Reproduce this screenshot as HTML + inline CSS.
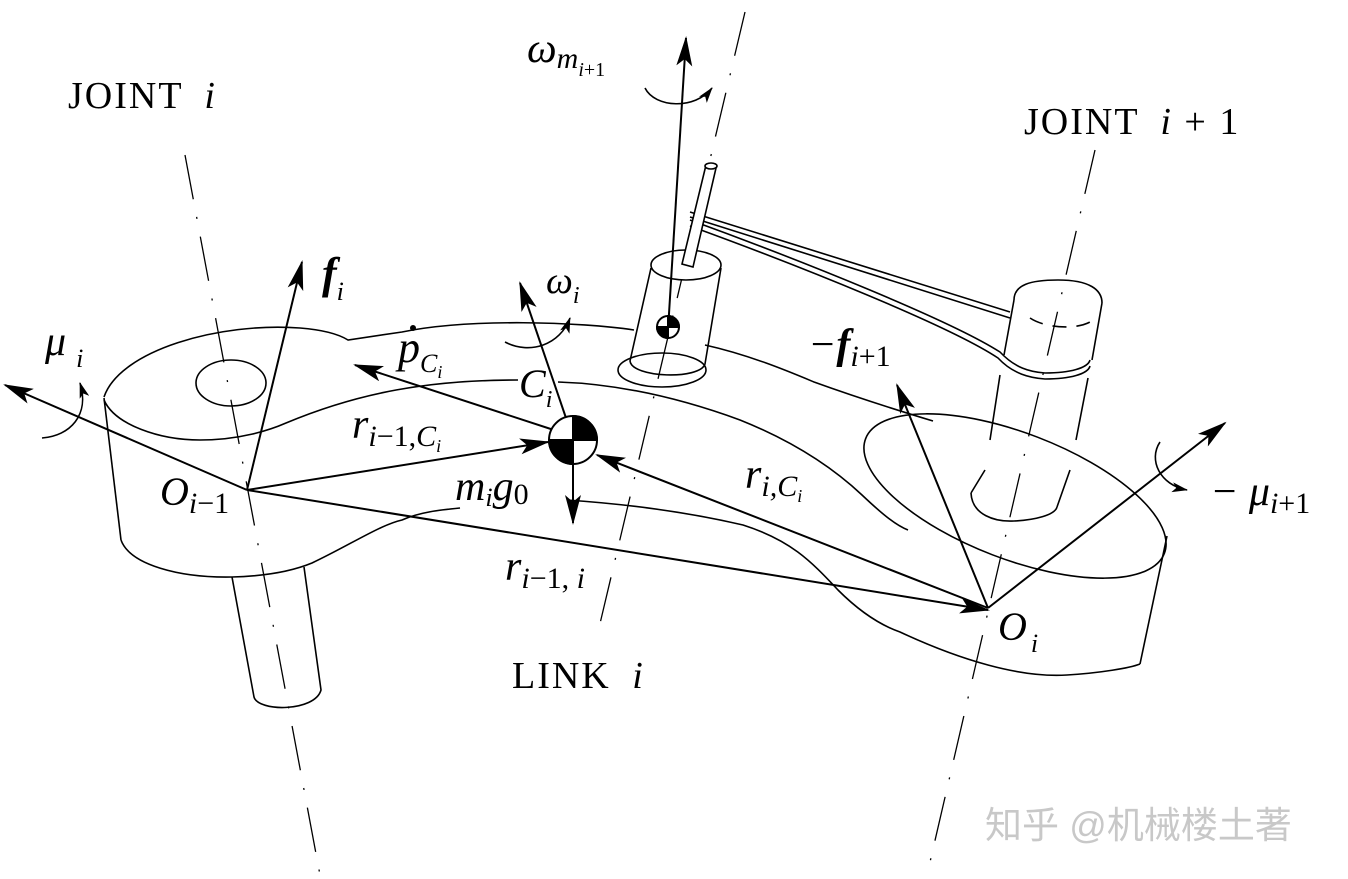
<!DOCTYPE html>
<html><head><meta charset="utf-8"><style>
html,body{margin:0;padding:0;background:#fff;}
svg{display:block}
text{font-family:"Liberation Serif",serif;fill:#000}
.m{font-style:italic}
</style></head><body>
<svg width="1348" height="879" viewBox="0 0 1348 879" xmlns="http://www.w3.org/2000/svg">
<defs>
<marker id="ar" viewBox="0 0 30 16" refX="28" refY="8" markerWidth="30" markerHeight="16" markerUnits="userSpaceOnUse" orient="auto">
<path d="M0,0 L30,8 L0,16 L7,8 Z" fill="#000"/>
</marker>
<marker id="as" viewBox="0 0 16 10" refX="15" refY="5" markerWidth="16" markerHeight="10" markerUnits="userSpaceOnUse" orient="auto">
<path d="M0,0 L16,5 L0,10 L4,5 Z" fill="#000"/>
</marker>
</defs>
<g fill="none" stroke="#000" stroke-width="1.6">
<g stroke-width="1.3" stroke-dasharray="45,18,2,18">
<line x1="185" y1="155" x2="320" y2="875"/>
<line x1="1095" y1="150" x2="927" y2="875"/>
<line x1="745" y1="12" x2="598" y2="632"/>
</g>
<path d="M104,397 C120,350 220,322 300,328 C325,330 340,335 348,340 L402,332 C470,318 580,322 634,330"/>
<path d="M705,345 C750,355 790,372 814,382 C850,395 890,408 933,421"/>
<path d="M104,400 C115,425 160,440 200,440 C240,440 270,430 286,423 C360,392 430,380 518,380"/>
<path d="M558,382 C620,384 680,398 740,420 C790,440 830,465 862,495 C880,512 895,525 908,530"/>
<path d="M104,398 L121,540"/>
<path d="M121,540 C130,565 180,578 232,577 C270,576 295,570 312,563 C350,545 380,525 402,520 C420,512 440,510 460,508"/>
<path d="M567,500 C640,505 700,515 743,525 C790,540 810,560 838,590 C860,612 880,625 900,632 C960,660 1020,678 1067,675 C1100,673 1130,668 1140,664"/>
<path d="M232,577 L254,697 C258,712 315,712 321,690 L304,567"/>
<ellipse cx="231" cy="383" rx="35" ry="23"/>
<ellipse cx="1015" cy="496" rx="160" ry="63" transform="rotate(21 1015 496)"/>
<path d="M1167,536 L1140,664"/>
<path d="M1014,300 C1014,285 1030,280 1058,280 C1090,280 1102,290 1102,303"/>
<path d="M1030,318 C1045,328 1075,330 1090,322" stroke-dasharray="14,10"/>
<path d="M1014,300 L1004,355 M1000,375 L990,440 M985,470 L971,493"/>
<path d="M1102,303 L1092,360 M1088,378 L1076,440 M1070,470 L1057,507"/>
<path d="M971,493 C972,515 995,522 1014,521 C1035,520 1055,515 1057,507"/>
<path d="M690,212 L1010,312 M690,217 L1010,318"/>
<path d="M690,220 C800,260 950,320 1000,352 C1015,368 1030,372 1045,373 C1070,373 1088,368 1090,360"/>
<path d="M690,226 C800,266 950,326 998,358 C1013,374 1030,378 1045,379 C1070,379 1088,374 1090,366"/>
<ellipse cx="662" cy="370" rx="44" ry="17"/>
<path d="M651,268 L630,361 C632,378 700,380 705,364 L721,268"/>
<ellipse cx="686" cy="265" rx="35" ry="15" fill="#fff"/>
<path d="M706,165 L716,168 L693,267 L682,264 Z" fill="#fff"/>
<ellipse cx="711" cy="166" rx="6" ry="3" fill="#fff"/>
<g stroke-width="2">
<line x1="247" y1="490" x2="5" y2="385" marker-end="url(#ar)"/>
<line x1="247" y1="490" x2="302" y2="262" marker-end="url(#ar)"/>
<line x1="247" y1="490" x2="548" y2="442" marker-end="url(#ar)"/>
<line x1="247" y1="490" x2="988" y2="610" marker-end="url(#ar)"/>
<line x1="560" y1="432" x2="355" y2="365" marker-end="url(#ar)"/>
<line x1="566" y1="418" x2="520" y2="283" marker-end="url(#ar)"/>
<line x1="573" y1="462" x2="573" y2="523" marker-end="url(#ar)"/>
<line x1="988" y1="608" x2="597" y2="455" marker-end="url(#ar)"/>
<line x1="988" y1="608" x2="897" y2="385" marker-end="url(#ar)"/>
<line x1="988" y1="608" x2="1225" y2="423" marker-end="url(#ar)"/>
<line x1="668" y1="330" x2="686" y2="38" marker-end="url(#ar)"/>
</g>
<path d="M42,438 C70,436 90,415 80,383" marker-end="url(#as)"/>
<path d="M505,342 C530,355 560,345 570,318" marker-end="url(#as)"/>
<path d="M1160,442 C1148,460 1160,485 1187,490" marker-end="url(#as)"/>
<path d="M645,88 C655,108 695,110 712,88" marker-end="url(#as)"/>
</g>
<g stroke="#000" stroke-width="2">
<circle cx="573" cy="440" r="24" fill="#fff"/>
<path d="M573,440 L573,416 A24,24 0 0 1 597,440 Z" fill="#000"/>
<path d="M573,440 L573,464 A24,24 0 0 1 549,440 Z" fill="#000"/>
<line x1="549" y1="440" x2="597" y2="440"/>
<circle cx="668" cy="327" r="11" fill="#fff"/>
<path d="M668,327 L668,316 A11,11 0 0 1 679,327 Z" fill="#000"/>
<path d="M668,327 L668,338 A11,11 0 0 1 657,327 Z" fill="#000"/>
</g>
<text x="68" y="108" font-size="38" letter-spacing="2">JOINT <tspan class="m" dx="10">i</tspan></text>
<text x="1024" y="134" font-size="38" letter-spacing="2">JOINT <tspan class="m" dx="10">i</tspan> + 1</text>
<text x="512" y="688" font-size="38" letter-spacing="2">LINK <tspan class="m" dx="10">i</tspan></text>
<text x="45" y="355" font-size="42" class="m">μ<tspan font-size="26" dy="12" dx="10">i</tspan></text>
<text x="322" y="288" font-size="44" class="m" font-weight="bold">f<tspan font-size="26" dy="12" font-weight="normal">i</tspan></text>
<text x="398" y="362" font-size="44" class="m">p<tspan font-size="26" dy="10">C</tspan><tspan font-size="18" dy="6">i</tspan></text>
<circle cx="413" cy="328" r="3" fill="#000"/>
<text x="546" y="293" font-size="38" class="m">ω<tspan font-size="24" dy="10">i</tspan></text>
<text x="519" y="397" font-size="40" class="m">C<tspan font-size="24" dy="10">i</tspan></text>
<text x="352" y="438" font-size="42" class="m">r<tspan font-size="30" dy="8">i</tspan><tspan font-size="30" font-style="normal">−1,</tspan><tspan font-size="30">C</tspan><tspan font-size="18" dy="6">i</tspan></text>
<text x="160" y="505" font-size="40" class="m">O<tspan font-size="30" dy="8">i</tspan><tspan font-size="30" font-style="normal">−1</tspan></text>
<text x="455" y="500" font-size="42" class="m">m<tspan font-size="26" dy="6">i</tspan><tspan dy="-6">g</tspan><tspan font-size="30" dy="4" font-style="normal">0</tspan></text>
<text x="505" y="580" font-size="42" class="m">r<tspan font-size="30" dy="8">i</tspan><tspan font-size="30" font-style="normal">−1,</tspan><tspan font-size="30"> i</tspan></text>
<text x="745" y="488" font-size="42" class="m">r<tspan font-size="30" dy="8">i,C</tspan><tspan font-size="18" dy="6">i</tspan></text>
<text x="808" y="358" font-size="42" class="m">−<tspan font-weight="bold">f</tspan><tspan font-size="30" dy="8">i</tspan><tspan font-size="30" font-style="normal">+1</tspan></text>
<text x="998" y="640" font-size="40" class="m">O<tspan font-size="26" dy="12" dx="4">i</tspan></text>
<text x="1210" y="505" font-size="42" class="m">− μ<tspan font-size="30" dy="8">i</tspan><tspan font-size="30" font-style="normal">+1</tspan></text>
<text x="527" y="62" font-size="42" class="m">ω<tspan font-size="30" dy="6">m</tspan><tspan font-size="20" dy="8">i</tspan><tspan font-size="20" font-style="normal">+1</tspan></text>
<text x="985" y="838" font-size="37" style="font-family:'Liberation Sans','Noto Sans CJK SC',sans-serif;fill:#c8c8c8">知乎 @机械楼土著</text>
</svg>
</body></html>
